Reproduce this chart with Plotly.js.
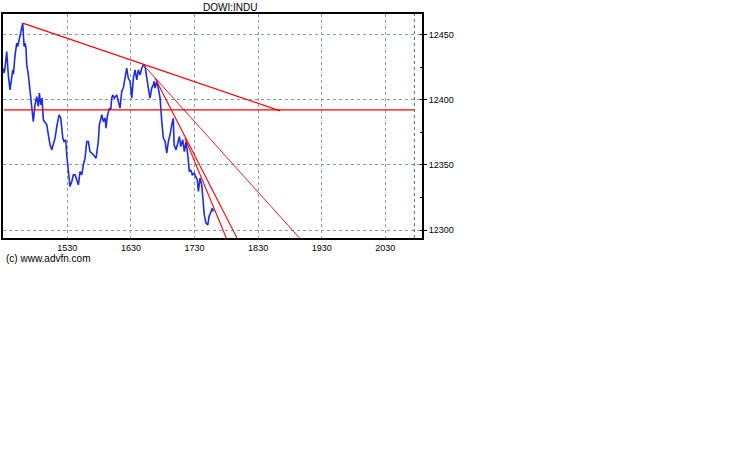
<!DOCTYPE html>
<html><head><meta charset="utf-8">
<script src="https://cdn.plot.ly/plotly-3.0.1.min.js"></script>
<style>html,body{margin:0;padding:0;background:#fff}</style>
</head><body><div id="chart" style="width:738px;height:475px"></div>
<script>
// minutes after 14:30 (UK time) and DOW index value
const minutes = [0,0.3,1.2,2.8,4.3,5.9,8.5,9.1,10.7,12.3,13.2,14.4,15.4,17.9,19.2,20.1,21.0,21.7,23.2,24.8,26.4,27.9,29.5,31.1,32.6,33.6,34.9,36.1,37.4,39.0,40.6,42.1,43.7,45.3,46.8,48.4,50.3,52.2,53.8,55.7,56.9,58.5,59.4,60.9,62.5,64.2,65.7,67.3,68.9,70.4,72.0,73.6,75.1,76.7,78.3,79.8,81.4,83.0,84.5,87.1,89.2,90.2,92.5,94.0,95.6,96.5,97.7,99.6,100.9,101.9,102.8,104.3,106.6,108.1,109.7,111.3,112.8,114.4,116.0,117.5,119.2,120.8,122.3,123.9,125.5,127.0,128.6,130.2,131.7,133.3,134.9,136.4,138.0,139.6,141.1,141.8,142.7,144.3,145.8,147.5,149.1,150.6,152.2,153.8,155.3,156.9,158.5,160.0,160.7,162.5,164.2,165.7,167.0,168.9,170.4,172.0,173.6,175.1,176.4,177.9,179.5,181.1,182.6,183.6,185.2,186.8,187.7,189.2,190.8,192.5,193.7,195.3,196.8,197.7];
const prices = [12424.3,12420.5,12424.3,12437.1,12419.2,12407.7,12423.0,12419.7,12434.6,12443.5,12440.9,12446.1,12449.9,12458.9,12440.9,12443.5,12439.7,12426.9,12419.2,12406.4,12398.7,12383.3,12396.2,12402.5,12394.9,12405.1,12396.2,12401.3,12384.6,12382.1,12380.8,12373.1,12365.4,12361.6,12365.4,12370.6,12380.8,12388.5,12385.9,12370.6,12368.0,12369.3,12357.8,12344.9,12333.4,12337.3,12342.4,12342.4,12338.6,12334.7,12344.9,12342.4,12350.0,12355.2,12368.0,12368.0,12360.3,12359.1,12357.8,12355.2,12368.0,12380.8,12388.5,12383.3,12385.9,12378.3,12387.2,12393.6,12392.3,12401.3,12403.8,12401.3,12403.8,12398.7,12393.6,12406.4,12409.0,12416.7,12424.3,12416.7,12414.1,12401.3,12416.7,12423.0,12415.4,12423.0,12419.2,12424.3,12426.9,12425.6,12415.4,12409.0,12401.3,12409.0,12411.5,12414.1,12409.0,12414.1,12409.0,12401.3,12383.3,12370.6,12368.0,12359.1,12368.0,12373.1,12380.8,12385.9,12365.4,12361.6,12366.7,12371.8,12364.1,12369.3,12360.3,12368.0,12357.8,12344.9,12346.2,12342.4,12343.7,12341.1,12338.6,12329.6,12339.9,12334.7,12327.0,12311.7,12305.3,12304.0,12310.4,12314.2,12316.8,12314.2];

// trend lines drawn on the chart
const trendX = [17.9, 260.7];
const trendY = [12458.9, 12391.6];
const supportX = [0, 388];
const supportY = [12392.3, 12392.3];
const fan1X = [131.7, 289.1];
const fan1Y = [12426.9, 12284.8];
const fan2X = [142.7, 225.8];
const fan2Y = [12416.7, 12284.8];
const fan3X = [171.0, 214.6];
const fan3Y = [12370.6, 12284.8];
const markerTime = 387.4;

const timeTicks = [60, 120, 180, 240, 300, 360];
const timeLabels = ['1530', '1630', '1730', '1830', '1930', '2030'];
const priceTicks = [12300, 12350, 12400, 12450];
const priceLabels = ['12300', '12350', '12400', '12450'];
const xRange = [-0.7, 394.6];
const yRange = [12293.9, 12465.9];

const traces = [
  {x: minutes, y: prices, mode: 'lines', line: {color: '#1a2cf0', width: 1.6}, hoverinfo: 'skip'},
  {x: trendX, y: trendY, mode: 'lines', line: {color: '#ff0000', width: 1.3}},
  {x: supportX, y: supportY, mode: 'lines', line: {color: '#ff0000', width: 1.4}},
  {x: fan1X, y: fan1Y, mode: 'lines', line: {color: '#ee0000', width: 0.9}},
  {x: fan2X, y: fan2Y, mode: 'lines', line: {color: '#ff0000', width: 1.1}},
  {x: fan3X, y: fan3Y, mode: 'lines', line: {color: '#ff0000', width: 1.1}}
];

const font = "'Liberation Sans', Arial, sans-serif";
const layout = {
  width: 738, height: 475,
  margin: {l: 3, r: 316, t: 14, b: 237, pad: 0},
  paper_bgcolor: '#ffffff', plot_bgcolor: '#ffffff',
  showlegend: false,
  font: {family: font, size: 9, color: '#000'},
  xaxis: {
    range: xRange, tickmode: 'array', tickvals: timeTicks, ticktext: timeLabels,
    showgrid: true, gridcolor: '#8f9a9a', griddash: 'dot', gridwidth: 1,
    showline: true, linecolor: '#000', linewidth: 2, mirror: true,
    ticks: '', zeroline: false, tickfont: {family: font, size: 9, color: '#000'}
  },
  yaxis: {
    range: yRange, side: 'right', tickmode: 'array', tickvals: priceTicks, ticktext: priceLabels,
    showgrid: true, gridcolor: '#8f9a9a', griddash: 'dot', gridwidth: 1,
    showline: true, linecolor: '#000', linewidth: 2, mirror: true,
    ticks: 'outside', ticklen: 3, tickcolor: '#000', tickwidth: 1,
    zeroline: false, tickfont: {family: font, size: 9, color: '#000'},
    minor: {dtick: 25, tick0: 0, ticks: 'inside', ticklen: 2, tickcolor: '#000', showgrid: false}
  },
  shapes: [
    {type: 'line', xref: 'x', yref: 'paper', x0: markerTime, x1: markerTime, y0: 0, y1: 1,
     line: {color: '#506868', width: 1, dash: 'dot'}}
  ],
  annotations: [
    {text: 'DOWI:INDU', xref: 'paper', yref: 'paper', x: 0.5418, y: 1.031,
     xanchor: 'center', yanchor: 'middle', showarrow: false, font: {family: font, size: 10, color: '#000'}},
    {text: '(c) www.advfn.com', xref: 'paper', yref: 'paper', x: 0.0024, y: -0.0893,
     xanchor: 'left', yanchor: 'middle', showarrow: false, font: {family: font, size: 10, color: '#000'}}
  ]
};

Plotly.newPlot('chart', traces, layout, {staticPlot: true, displayModeBar: false});
</script>
</body></html>
